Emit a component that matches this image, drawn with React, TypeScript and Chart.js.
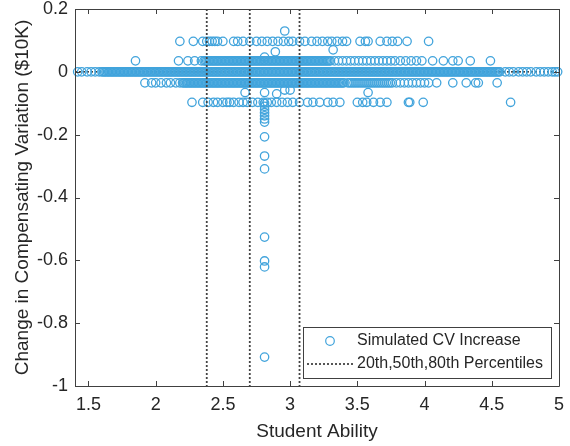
import { useEffect, useRef } from "react";
import { Chart, registerables } from "chart.js";

Chart.register(...registerables);

// ---- axes ----
const X_MIN = 1.4;
const X_MAX = 5;
const Y_MIN = -1;
const Y_MAX = 0.2;
const xTicks = [1.5, 2, 2.5, 3, 3.5, 4, 4.5, 5];
const yTicks = [0.2, 0, -0.2, -0.4, -0.6, -0.8, -1];

// ---- percentile lines ----
const percentiles = [2.38, 2.7, 3.07];

// ---- scatter rows (y level + x positions) ----
const levelZero = 0;
const levelPos1 = 0.035;
const levelNeg1 = -0.035;
const levelPos2 = 0.097;
const levelNeg2 = -0.097;

const zeroRowX = [
  1.42, 1.45, 1.49, 1.52, 1.55, 1.58,
  1.6, 1.62, 1.64, 1.66, 1.68, 1.7, 1.72, 1.74, 1.76, 1.78,
  1.8, 1.82, 1.84, 1.86, 1.88, 1.9, 1.92, 1.94, 1.96, 1.98,
  2.0, 2.02, 2.04, 2.06, 2.08, 2.1, 2.12, 2.14, 2.16, 2.18,
  2.2, 2.22, 2.24, 2.26, 2.28, 2.3, 2.32, 2.34, 2.36, 2.38,
  2.4, 2.42, 2.44, 2.46, 2.48, 2.5, 2.52, 2.54, 2.56, 2.58,
  2.6, 2.62, 2.64, 2.66, 2.68, 2.7, 2.72, 2.74, 2.76, 2.78,
  2.8, 2.82, 2.84, 2.86, 2.88, 2.9, 2.92, 2.94, 2.96, 2.98,
  3.0, 3.02, 3.04, 3.06, 3.08, 3.1, 3.12, 3.14, 3.16, 3.18,
  3.2, 3.22, 3.24, 3.26, 3.28, 3.3, 3.32, 3.34, 3.36, 3.38,
  3.4, 3.42, 3.44, 3.46, 3.48, 3.5, 3.52, 3.54, 3.56, 3.58,
  3.6, 3.62, 3.64, 3.66, 3.68, 3.7, 3.72, 3.74, 3.76, 3.78,
  3.8, 3.82, 3.84, 3.86, 3.88, 3.9, 3.92, 3.94, 3.96, 3.98,
  4.0, 4.02, 4.04, 4.06, 4.08, 4.1, 4.12, 4.14, 4.16, 4.18,
  4.2, 4.22, 4.24, 4.26, 4.28, 4.3, 4.32, 4.34, 4.36, 4.38,
  4.4, 4.42, 4.44, 4.46, 4.48, 4.5, 4.52, 4.54, 4.56,
  4.6, 4.63, 4.66, 4.7, 4.73, 4.76, 4.79, 4.83, 4.86, 4.89, 4.92, 4.95, 4.97, 4.99,
];
const zeroRowXb = [
  1.61, 1.63, 1.65, 1.67, 1.69, 1.71, 1.73, 1.75, 1.77, 1.79,
  1.81, 1.83, 1.85, 1.87, 1.89, 1.91, 1.93, 1.95, 1.97, 1.99,
  2.01, 2.03, 2.05, 2.07, 2.09, 2.11, 2.13, 2.15, 2.17, 2.19,
  2.21, 2.23, 2.25, 2.27, 2.29, 2.31, 2.33, 2.35, 2.37, 2.39,
  2.41, 2.43, 2.45, 2.47, 2.49, 2.51, 2.53, 2.55, 2.57, 2.59,
  2.61, 2.63, 2.65, 2.67, 2.69, 2.71, 2.73, 2.75, 2.77, 2.79,
  2.81, 2.83, 2.85, 2.87, 2.89, 2.91, 2.93, 2.95, 2.97, 2.99,
  3.01, 3.03, 3.05, 3.07, 3.09, 3.11, 3.13, 3.15, 3.17, 3.19,
  3.21, 3.23, 3.25, 3.27, 3.29, 3.31, 3.33, 3.35, 3.37, 3.39,
  3.41, 3.43, 3.45, 3.47, 3.49, 3.51, 3.53, 3.55, 3.57, 3.59,
  3.61, 3.63, 3.65, 3.67, 3.69, 3.71, 3.73, 3.75, 3.77, 3.79,
  3.81, 3.83, 3.85, 3.87, 3.89, 3.91, 3.93, 3.95, 3.97, 3.99,
  4.01, 4.03, 4.05, 4.07, 4.09, 4.11, 4.13, 4.15, 4.17, 4.19,
  4.21, 4.23, 4.25, 4.27, 4.29, 4.31, 4.33, 4.35, 4.37, 4.39,
  4.41, 4.43, 4.45, 4.47, 4.49, 4.51, 4.53, 4.55,
];

const pos1RowX = [
  1.85, 2.17, 2.24, 2.29, 2.34,
  2.36, 2.38, 2.4, 2.42, 2.44, 2.46, 2.48, 2.5, 2.52, 2.54, 2.56, 2.58,
  2.6, 2.62, 2.64, 2.66, 2.68, 2.7, 2.72, 2.74, 2.76, 2.78,
  2.8, 2.82, 2.84, 2.86, 2.88, 2.9, 2.92, 2.94, 2.96, 2.98,
  3.0, 3.02, 3.04, 3.06, 3.08, 3.1, 3.12, 3.14, 3.16, 3.18,
  3.2, 3.22, 3.24, 3.26, 3.28, 3.3,
  3.33, 3.36, 3.39, 3.42, 3.45, 3.48, 3.51, 3.54, 3.57, 3.6, 3.63, 3.66,
  3.69, 3.72, 3.75, 3.78, 3.82, 3.86, 3.9, 3.94, 3.98,
  4.06, 4.14, 4.21, 4.25, 4.34, 4.49,
];
const pos1RowXb = [
  2.37, 2.39, 2.41, 2.43, 2.45, 2.47, 2.49, 2.51, 2.53, 2.55, 2.57, 2.59,
  2.61, 2.63, 2.65, 2.67, 2.69, 2.71, 2.73, 2.75, 2.77, 2.79,
  2.81, 2.83, 2.85, 2.87, 2.89, 2.91, 2.93, 2.95, 2.97, 2.99,
  3.01, 3.03, 3.05, 3.07, 3.09, 3.11, 3.13, 3.15, 3.17, 3.19,
  3.21, 3.23, 3.25, 3.27, 3.29,
];

const neg1RowX = [
  1.92, 1.97, 2.0, 2.04, 2.08, 2.11, 2.15, 2.18,
  2.2, 2.22, 2.24, 2.26, 2.28, 2.3, 2.32, 2.34, 2.36, 2.38,
  2.4, 2.42, 2.44, 2.46, 2.48, 2.5, 2.52, 2.54, 2.56, 2.58,
  2.6, 2.62, 2.64, 2.66, 2.68, 2.7, 2.72, 2.74, 2.76, 2.78,
  2.8, 2.82, 2.84, 2.86, 2.88, 2.9, 2.92, 2.94, 2.96, 2.98,
  3.0, 3.02, 3.04, 3.06, 3.08, 3.1, 3.12, 3.14, 3.16, 3.18,
  3.2, 3.22, 3.24, 3.26, 3.28, 3.3, 3.32, 3.34, 3.36, 3.38, 3.4,
  3.43, 3.46, 3.49, 3.52, 3.55, 3.58, 3.61, 3.64, 3.67, 3.7, 3.73,
  3.76, 3.79, 3.82, 3.85, 3.88, 3.91, 3.94, 3.97, 4.0, 4.03,
  4.09, 4.21, 4.31, 4.38, 4.4, 4.54,
];
const neg1RowXb = [
  2.21, 2.23, 2.25, 2.27, 2.29, 2.31, 2.33, 2.35, 2.37, 2.39,
  2.41, 2.43, 2.45, 2.47, 2.49, 2.51, 2.53, 2.55, 2.57, 2.59,
  2.61, 2.63, 2.65, 2.67, 2.69, 2.71, 2.73, 2.75, 2.77, 2.79,
  2.81, 2.83, 2.85, 2.87, 2.89, 2.91, 2.93, 2.95, 2.97, 2.99,
  3.01, 3.03, 3.05, 3.07, 3.09, 3.11, 3.13, 3.15, 3.17, 3.19,
  3.21, 3.23, 3.25, 3.27, 3.29, 3.31, 3.33, 3.35, 3.37, 3.39,
  3.445, 3.475, 3.505, 3.535, 3.565, 3.595, 3.625, 3.655, 3.685, 3.715, 3.745,
];

const pos2RowX = [
  2.18, 2.28, 2.35, 2.38, 2.4, 2.42, 2.44, 2.46, 2.5, 2.58, 2.61, 2.65, 2.7,
  2.75, 2.79, 2.83, 2.87, 2.91, 2.95, 2.99, 3.02, 3.07, 3.11, 3.16, 3.2,
  3.24, 3.28, 3.31, 3.35, 3.39, 3.42, 3.52, 3.56, 3.58, 3.67, 3.72, 3.76,
  3.8, 3.87, 4.03,
];

const neg2RowX = [
  2.27, 2.35, 2.39, 2.43, 2.46, 2.5, 2.53, 2.55, 2.58, 2.62, 2.65, 2.68,
  2.72, 2.76, 2.8, 2.83, 2.86, 2.9, 2.94, 2.98, 3.02, 3.07, 3.13, 3.17,
  3.22, 3.28, 3.32, 3.37, 3.5, 3.54, 3.57, 3.62, 3.67, 3.72, 3.88, 3.89,
  3.99, 4.64,
];

// isolated points
const extraX = [
  2.96, 2.89, 3.32, 2.81,
  2.665, 2.81, 2.9, 2.96, 3.0, 3.58,
  2.81, 2.81, 2.81, 2.81, 2.81, 2.81, 2.81,
  2.81, 2.81, 2.81, 2.81, 2.81, 2.81, 2.81,
];
const extraY = [
  0.13, 0.064, 0.07, 0.047,
  -0.066, -0.066, -0.07, -0.058, -0.058, -0.066,
  -0.1, -0.11, -0.12, -0.13, -0.14, -0.15, -0.16,
  -0.207, -0.268, -0.309, -0.526, -0.602, -0.621, -0.908,
];

const MARKER = "rgb(66,164,220)";
const TEXT = "#262626";
const AXIS = "#404040";
const FONT = '"Liberation Sans", Arial, Helvetica, sans-serif';

const row = (xs: number[], y: number) => xs.map((x) => ({ x, y }));

const framePlugin = {
  id: "frameTicks",
  afterDraw(chart: any) {
    const { ctx, chartArea: a, scales } = chart;
    const xs = scales.x;
    const ys = scales.y;
    ctx.save();
    ctx.strokeStyle = AXIS;
    ctx.lineWidth = 1;
    ctx.beginPath();
    ctx.rect(Math.round(a.left) + 0.5, Math.round(a.top) + 0.5, Math.round(a.right - a.left), Math.round(a.bottom - a.top));
    ctx.stroke();
    const L = 5;
    ctx.beginPath();
    xTicks.forEach((v) => {
      const px = Math.round(xs.getPixelForValue(v)) + 0.5;
      ctx.moveTo(px, a.bottom);
      ctx.lineTo(px, a.bottom - L);
      ctx.moveTo(px, a.top);
      ctx.lineTo(px, a.top + L);
    });
    yTicks.forEach((v) => {
      const py = Math.round(ys.getPixelForValue(v)) + 0.5;
      ctx.moveTo(a.left, py);
      ctx.lineTo(a.left + L, py);
      ctx.moveTo(a.right, py);
      ctx.lineTo(a.right - L, py);
    });
    ctx.stroke();
    ctx.restore();
  },
};

const legendPlugin = {
  id: "boxLegend",
  afterDraw(chart: any) {
    const { ctx, chartArea: a } = chart;
    const w = 248;
    const h = 51;
    const x0 = Math.round(a.right - 8 - w);
    const y0 = Math.round(a.bottom - 8 - h);
    ctx.save();
    ctx.fillStyle = "#ffffff";
    ctx.fillRect(x0, y0, w, h);
    ctx.strokeStyle = AXIS;
    ctx.lineWidth = 1;
    ctx.strokeRect(x0 + 0.5, y0 + 0.5, w, h);
    ctx.beginPath();
    ctx.arc(x0 + 27, y0 + 14, 4.3, 0, Math.PI * 2);
    ctx.strokeStyle = MARKER;
    ctx.lineWidth = 1.2;
    ctx.stroke();
    ctx.setLineDash([2, 2]);
    ctx.strokeStyle = "#444444";
    ctx.lineWidth = 1.8;
    ctx.beginPath();
    ctx.moveTo(x0 + 4, y0 + 37);
    ctx.lineTo(x0 + 50, y0 + 37);
    ctx.stroke();
    ctx.setLineDash([]);
    ctx.fillStyle = TEXT;
    ctx.font = `16px ${FONT}`;
    ctx.textBaseline = "middle";
    ctx.textAlign = "left";
    ctx.fillText("Simulated CV Increase", x0 + 54, y0 + 14);
    ctx.fillText("20th,50th,80th Percentiles", x0 + 54, y0 + 37);
    ctx.restore();
  },
};

export default function App() {
  const ref = useRef<HTMLCanvasElement | null>(null);

  useEffect(() => {
    document.body.style.margin = "0";
    const canvas = ref.current;
    if (!canvas) return;

    const scatterData = [
      ...row(zeroRowX, levelZero),
      ...row(zeroRowXb, levelZero),
      ...row(pos1RowX, levelPos1),
      ...row(pos1RowXb, levelPos1),
      ...row(neg1RowX, levelNeg1),
      ...row(neg1RowXb, levelNeg1),
      ...row(pos2RowX, levelPos2),
      ...row(neg2RowX, levelNeg2),
      ...extraX.map((x, i) => ({ x, y: extraY[i] })),
    ];

    const percentileSets = percentiles.map((p) => ({
      label: "20th,50th,80th Percentiles",
      data: [
        { x: p, y: Y_MAX },
        { x: p, y: Y_MIN },
      ],
      showLine: true,
      borderColor: "#444444",
      borderWidth: 1.8,
      borderDash: [2, 2],
      pointRadius: 0,
      fill: false,
    }));

    const chart = new Chart(canvas, {
      type: "scatter",
      data: {
        datasets: [
          ...percentileSets,
          {
            label: "Simulated CV Increase",
            data: scatterData,
            pointRadius: 4.2,
            pointBorderWidth: 1.3,
            pointBorderColor: MARKER,
            pointBackgroundColor: "rgba(0,0,0,0)",
            borderColor: MARKER,
            backgroundColor: "rgba(0,0,0,0)",
            clip: false,
          } as any,
          {
            label: "zero",
            data: [
              { x: X_MIN, y: 0 },
              { x: X_MAX, y: 0 },
            ],
            showLine: true,
            borderColor: "#333333",
            borderWidth: 1.5,
            borderDash: [2, 2],
            pointRadius: 0,
          },
        ],
      },
      options: {
        responsive: false,
        animation: false,
        devicePixelRatio: 1,
        layout: { padding: { top: 9, right: 11, left: 0, bottom: 0 } },
        plugins: {
          legend: { display: false },
          tooltip: { enabled: false },
        },
        scales: {
          x: {
            type: "linear",
            min: X_MIN,
            max: X_MAX,
            afterBuildTicks: (s: any) => {
              s.ticks = xTicks.map((v) => ({ value: v }));
            },
            afterFit: (s: any) => {
              s.height = 60;
              s.paddingLeft = 0;
              s.paddingRight = 0;
              s.paddingTop = 0;
              s.paddingBottom = 0;
            },
            grid: { display: false, drawTicks: false },
            border: { display: false },
            ticks: {
              padding: 8,
              color: TEXT,
              font: { family: FONT, size: 18 },
              maxRotation: 0,
              autoSkip: false,
              callback: (v: any) => String(v),
            },
            title: {
              display: true,
              text: "Student Ability",
              color: TEXT,
              font: { family: FONT, size: 19 },
              padding: { top: 0, bottom: 3 },
            },
          },
          y: {
            type: "linear",
            min: Y_MIN,
            max: Y_MAX,
            afterBuildTicks: (s: any) => {
              s.ticks = yTicks.map((v) => ({ value: v }));
            },
            afterFit: (s: any) => {
              s.width = 75;
              s.paddingLeft = 0;
              s.paddingRight = 0;
              s.paddingTop = 0;
              s.paddingBottom = 0;
            },
            grid: { display: false, drawTicks: false },
            border: { display: false },
            ticks: {
              padding: 7,
              color: TEXT,
              font: { family: FONT, size: 18 },
              autoSkip: false,
              callback: (v: any) => String(v),
            },
            title: {
              display: true,
              text: "Change in Compensating Variation ($10K)",
              color: TEXT,
              font: { family: FONT, size: 19 },
              padding: { top: 11, bottom: 0 },
            },
          },
        },
      },
      plugins: [framePlugin, legendPlugin],
    });

    return () => chart.destroy();
  }, []);

  return <canvas ref={ref} width={570} height={446} style={{ display: "block" }} />;
}
